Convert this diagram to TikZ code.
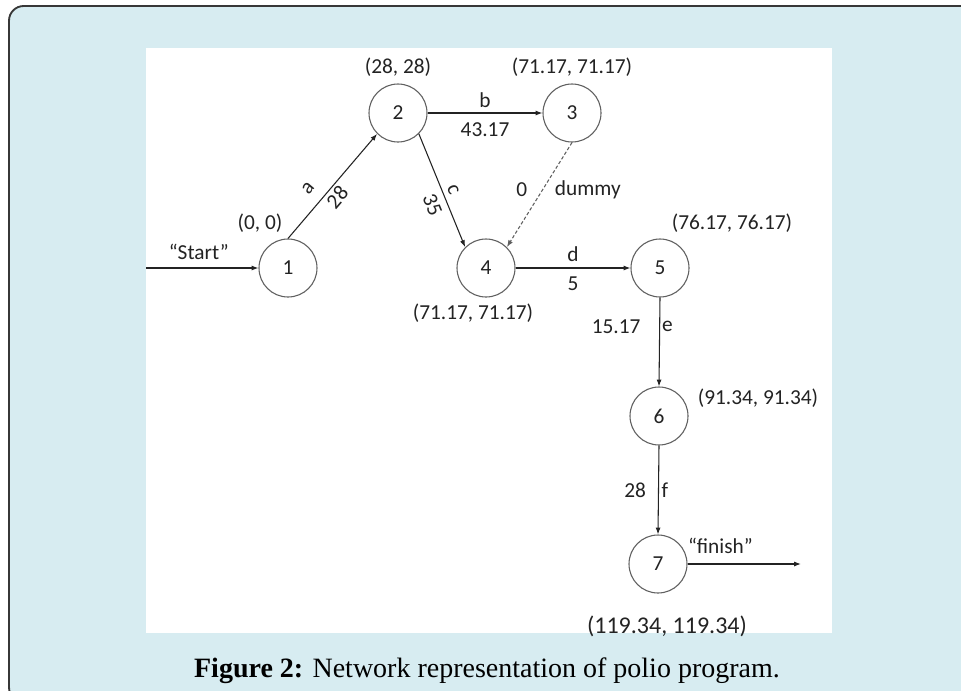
\documentclass[tikz,border=0pt]{standalone}
\usepackage{fontspec}
\setmainfont{Carlito}
\newfontfamily\capfont{Liberation Serif}
\usetikzlibrary{arrows.meta}

\definecolor{panelbg}{RGB}{215,236,241}
\definecolor{framecol}{RGB}{55,55,55}
\definecolor{ringcol}{RGB}{95,95,95}
\definecolor{inkcol}{RGB}{35,35,35}

\tikzset{
  event/.style={circle, draw=ringcol, line width=0.8pt, minimum size=43.5pt,
    inner sep=0pt, font=\fontsize{16}{19}\selectfont, text=inkcol},
  lbl/.style={font=\fontsize{16}{19}\selectfont, text=inkcol, inner sep=1pt},
  stamp/.style={lbl},
  activity/.style={draw=inkcol, line width=0.8pt,
    -{Latex[length=5.2pt,width=3.8pt]}},
  dummyact/.style={activity, draw=ringcol, dash pattern=on 2.5pt off 1.6pt},
}

\begin{document}
\begin{tikzpicture}[x=0.75pt,y=-0.75pt]
\useasboundingbox (0,0) rectangle (961,690);

% framed caption box with the white figure panel
\begin{scope}
  \clip (0,0) rectangle (961,690);
  \draw[framecol, line width=1.4pt, fill=panelbg, rounded corners=11pt]
    (9,6) rectangle (990,702);
\end{scope}
\fill[white] (146,48) rectangle (832,633);

% events
\node[event] (n1) at (288,268) {1};
\node[event] (n2) at (398,113) {2};
\node[event] (n3) at (572,113) {3};
\node[event] (n4) at (486,268) {4};
\node[event] (n5) at (660,268) {5};
\node[event] (n6) at (659,416) {6};
\node[event] (n7) at (658,564) {7};

\coordinate (startpt) at (146,268);
\coordinate (endpt) at (801,564);

% activities
\draw[activity] (startpt) -- (n1.west)
  node[lbl, pos=.47, above=5pt] (lstart) {“Start”};
\draw[activity] (n1.north) -- (n2.225)
  node[lbl, sloped, pos=.37, above=7.5pt] (la) {a}
  node[lbl, sloped, pos=.46, below=1pt] (la2) {28};
\draw[activity] (n2.east) -- (n3.west)
  node[lbl, midway, above=2.8pt] (lb) {b}
  node[lbl, midway, below=5.8pt] (lb2) {43.17};
\draw[activity] (n2.south east) -- (n4.north west)
  node[lbl, sloped, pos=.53, above=2.5pt] (lc) {c}
  node[lbl, sloped, pos=.58, below=4pt] (lc2) {35};
\draw[dummyact] (n3.south) -- (n4.north east)
  node[lbl, pos=.455, left=10pt] (lz) {0}
  node[lbl, pos=.455, right=8pt] (ldummy) {dummy};
\draw[activity] (n4.east) -- (n5.west)
  node[lbl, midway, above=3.5pt] (ld) {d}
  node[lbl, midway, below=5pt] (ld2) {5};
\draw[activity] (n5.south) -- (n6.north)
  node[lbl, pos=.33, left=13pt] (le2) {15.17}
  node[lbl, pos=.33, right=0.5pt] (le) {e};
\draw[activity] (n6.south) -- (n7.north)
  node[lbl, pos=.5, left=8pt] (lf2) {28}
  node[lbl, pos=.5, right=1pt] (lf) {f};
\draw[activity] (n7.east) -- (endpt)
  node[lbl, pos=.29, above=6.5pt] (lfinish) {“finish”};

% event times
\node[stamp] (t1) at (260,223) {(0, 0)};
\node[stamp] (t2) at (398,67) {(28, 28)};
\node[stamp] (t3) at (572,67) {(71.17, 71.17)};
\node[stamp] (t4) at (473,313) {(71.17, 71.17)};
\node[stamp] (t5) at (732,223) {(76.17, 76.17)};
\node[stamp] (t6) at (758,398) {(91.34, 91.34)};
\node[stamp, font=\fontsize{18}{21}\selectfont] (t7) at (667,626) {(119.34, 119.34)};

% caption
\node[font=\capfont\fontsize{21}{25}\selectfont, text=black, inner sep=0pt]
  (caption) at (487,671) {\textbf{Figure 2:} Network representation of polio program.};
\end{tikzpicture}
\end{document}
